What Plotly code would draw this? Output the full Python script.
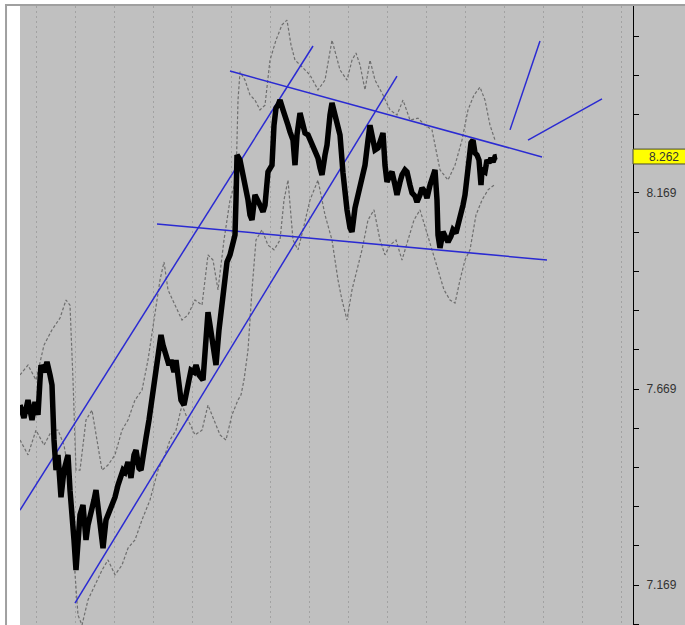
import plotly.graph_objects as go

# ---- price series (bar number, price) ----
bars = [20,24,28,32,35,38,40,41,44,47,50,52,54,56,58,61,64,68,70,72,74,76,78,80,83,86,88,91,94,96,
        98,101,103,106,108,111,115,118,120,123,125,128,131,134,136,139,141,144,146,149,151,154,156,159,161,163,166,169,171,174,
        176,179,181,184,186,189,191,194,196,199,203,205,208,210,213,216,219,222,225,227,230,233,235,236,237,240,243,245,248,250,
        252,255,258,260,263,265,268,270,272,274,276,278,280,283,285,288,290,293,295,297,300,303,305,308,310,313,315,318,320,322,
        325,327,330,332,335,337,340,343,345,347,350,352,355,358,360,363,365,368,370,373,375,378,380,383,385,387,390,392,395,397,
        400,402,405,407,410,412,415,417,420,422,425,427,430,432,435,437,438,440,443,446,448,451,453,456,458,461,463,465,467,469,
        471,473,475,477,479,481,482,485,487,489,491,493,495,497]
price = [7.628,7.595,7.641,7.590,7.636,7.603,7.692,7.730,7.712,7.738,7.705,7.679,7.539,7.462,7.501,7.393,7.462,7.501,7.411,7.360,
         7.284,7.207,7.271,7.348,7.373,7.284,7.322,7.348,7.386,7.411,7.360,7.297,7.263,7.335,7.348,7.360,7.393,7.424,7.442,7.462,
         7.457,7.483,7.442,7.501,7.513,7.467,7.462,7.526,7.544,7.590,7.628,7.679,7.712,7.768,7.807,7.781,7.756,7.730,7.743,7.712,
         7.743,7.692,7.641,7.628,7.661,7.692,7.717,7.712,7.730,7.705,7.692,7.781,7.865,7.832,7.781,7.730,7.820,7.888,7.947,7.993,
         8.011,8.036,8.062,8.151,8.266,8.253,8.215,8.197,8.151,8.113,8.100,8.164,8.151,8.138,8.121,8.138,8.223,8.233,8.240,8.342,
         8.386,8.393,8.406,8.381,8.360,8.342,8.325,8.304,8.240,8.317,8.373,8.342,8.322,8.317,8.304,8.284,8.271,8.258,8.233,8.215,
         8.266,8.291,8.368,8.399,8.368,8.350,8.317,8.220,8.164,8.126,8.080,8.070,8.131,8.164,8.195,8.223,8.240,8.304,8.342,8.304,
         8.279,8.284,8.299,8.322,8.240,8.197,8.215,8.223,8.189,8.164,8.197,8.215,8.228,8.223,8.189,8.169,8.161,8.146,8.164,8.182,
         8.172,8.156,8.189,8.207,8.228,8.151,8.062,8.029,8.070,8.054,8.044,8.059,8.075,8.067,8.085,8.113,8.138,8.164,8.202,8.253,
         8.297,8.304,8.271,8.266,8.253,8.189,8.228,8.223,8.253,8.246,8.258,8.248,8.261,8.262]

# ---- dashed overlay (upper) ----
up_bars = [20,28,36,44,52,60,66,70,73,76,80,86,92,97,102,108,115,122,128,135,142,148,154,160,164,168,175,182,188,195,
           202,208,213,218,224,230,236,238,240,245,250,255,260,265,270,276,282,287,291,295,300,305,310,318,325,332,340,347,352,356,
           360,365,370,375,383,390,397,403,410,418,425,432,440,448,455,462,468,474,480,485,490,495]
up_vals = [7.705,7.730,7.692,7.781,7.820,7.850,7.896,7.883,7.692,7.462,7.462,7.590,7.615,7.539,7.462,7.475,7.501,7.564,7.590,7.641,
           7.666,7.743,7.845,7.947,7.993,7.922,7.883,7.845,7.858,7.896,7.883,8.011,7.998,7.922,8.049,8.151,8.202,8.406,8.478,8.457,
           8.419,8.406,8.381,8.393,8.508,8.559,8.598,8.610,8.547,8.508,8.496,8.483,8.470,8.432,8.457,8.559,8.483,8.457,8.508,8.526,
           8.496,8.432,8.508,8.457,8.419,8.381,8.368,8.406,8.355,8.360,8.342,8.330,8.228,8.202,8.240,8.304,8.381,8.419,8.439,8.406,
           8.342,8.304]

# ---- dashed overlay (lower) ----
lo_bars = [20,28,36,44,52,58,64,70,74,78,82,88,95,102,108,115,122,128,135,142,150,158,165,170,176,182,188,195,202,208,
           214,220,226,232,238,241,244,248,252,256,262,268,274,280,284,288,293,298,303,310,318,325,332,338,342,347,352,357,362,368,
           374,380,385,390,396,402,408,414,420,426,432,438,444,450,455,460,465,470,476,482,488,494]
lo_vals = [7.539,7.501,7.564,7.526,7.564,7.564,7.526,7.437,7.233,7.092,7.067,7.131,7.169,7.207,7.233,7.195,7.220,7.263,7.284,7.335,
           7.386,7.462,7.501,7.539,7.564,7.628,7.590,7.552,7.564,7.628,7.590,7.552,7.539,7.603,7.641,7.654,7.692,7.768,7.922,8.049,
           8.075,8.036,8.024,8.049,8.151,8.202,8.049,8.024,8.075,8.151,8.202,8.113,8.049,7.947,7.896,7.845,7.922,7.973,8.024,8.100,
           8.126,8.049,8.011,8.036,8.049,7.998,8.049,8.100,8.126,8.075,8.024,7.973,7.922,7.896,7.888,7.947,7.998,8.024,8.113,8.151,
           8.177,8.189]

# ---- trend lines: (bar0, price0, bar1, price1) ----
trend_lines = [
    (20, 7.360, 313, 8.544),   # channel upper
    (75, 7.123, 397, 8.467),   # channel lower
    (230, 8.480, 542, 8.261),  # triangle top
    (157, 8.090, 547, 7.998),  # triangle bottom
    (510, 8.330, 540, 8.557),  # projection steep
    (528, 8.304, 602, 8.409),  # projection shallow
]

last_price = 8.262
label_prices = [7.169, 7.669, 8.169]
tick_prices = [round(7.069 + 0.1 * k, 3) for k in range(16)]
grid_bars = [36 + 39 * k for k in range(16)]

assert len(bars) == len(price)
assert len(up_bars) == len(up_vals)
assert len(lo_bars) == len(lo_vals)

fig = go.Figure()
fig.add_trace(go.Scatter(x=up_bars, y=up_vals, mode="lines",
                         line=dict(color="#6e6e6e", width=1.2, dash="3px,2px"), hoverinfo="skip"))
fig.add_trace(go.Scatter(x=lo_bars, y=lo_vals, mode="lines",
                         line=dict(color="#6e6e6e", width=1.2, dash="3px,2px"), hoverinfo="skip"))
for (x0, y0, x1, y1) in trend_lines:
    fig.add_trace(go.Scatter(x=[x0, x1], y=[y0, y1], mode="lines",
                             line=dict(color="#2a2ad2", width=1.5)))
fig.add_trace(go.Scatter(x=bars, y=price, mode="lines",
                         line=dict(color="#000000", width=5.5)))

shapes = [
    # right price panel
    dict(type="rect", xref="paper", yref="paper", x0=1.0, x1=1.1, y0=-0.05, y1=1.0,
         fillcolor="#c0c0c0", line=dict(width=0), layer="below"),
    # window frame
    dict(type="line", xref="paper", yref="paper", x0=-0.0245, x1=1.1, y0=1.0016, y1=1.0016,
         line=dict(color="#a0a0a0", width=2)),
    dict(type="line", xref="paper", yref="paper", x0=-0.0228, x1=-0.0228, y0=-0.05, y1=1.0032,
         line=dict(color="#a0a0a0", width=2)),
    # last price box
    dict(type="rect", xref="paper", yref="y", x0=1.0, x1=1.1, y0=last_price - 0.019, y1=last_price + 0.019,
         fillcolor="#ffff00", line=dict(color="#4a4a30", width=1)),
]

fig.update_layout(
    width=685, height=625,
    margin=dict(l=20, r=52, t=6, b=0),
    paper_bgcolor="#ffffff", plot_bgcolor="#c0c0c0",
    showlegend=False,
    shapes=shapes,
    annotations=[dict(xref="paper", yref="y", x=1.0 + 31 / 613, y=last_price, text=f"{last_price:.3f}",
                      showarrow=False, xanchor="center", yanchor="middle",
                      font=dict(family="Liberation Sans, Arial", size=12, color="#333333"))],
    xaxis=dict(range=[20, 633], showticklabels=False, ticks="", zeroline=False, showline=False,
               tickvals=grid_bars, showgrid=True, gridcolor="#a2a2a2", gridwidth=1, griddash="2px,3px"),
    yaxis=dict(range=[7.067, 8.646], side="right", showgrid=False, zeroline=False,
               showline=True, linecolor="#000000", linewidth=1,
               ticks="outside", ticklen=5, tickcolor="#000000", tickwidth=1,
               tickvals=tick_prices,
               ticktext=[f"{v:.3f}" if any(abs(v - p) < 1e-6 for p in label_prices) else "" for v in tick_prices],
               ticklabelstandoff=5,
               tickfont=dict(family="Liberation Sans, Arial", size=12, color="#333333")),
)

fig.write_html("out.html", config={"displayModeBar": False},
               post_script="document.body.style.margin='0';document.body.style.overflow='hidden';")
